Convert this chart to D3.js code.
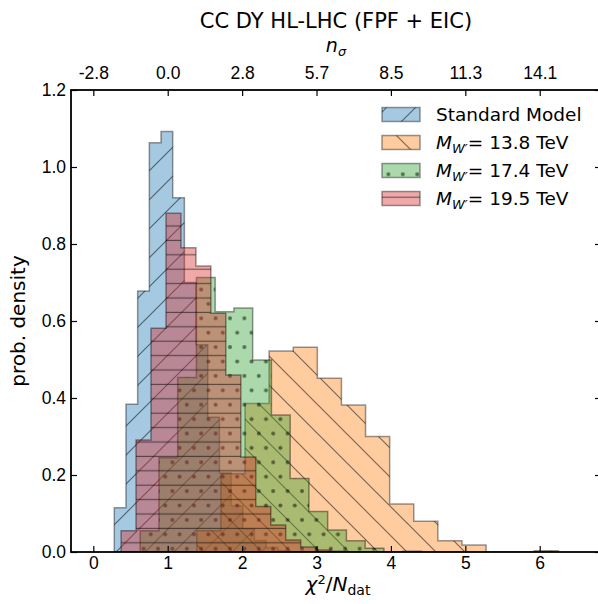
<!DOCTYPE html>
<html lang="en">
<head>
  <meta charset="UTF-8">
  <title>CC DY HL-LHC</title>
  <script src="https://d3js.org/d3.v7.min.js"></script>
  <style>
    body { margin: 0; background: #fff; }
    svg { font-family: "DejaVu Sans", sans-serif; }
    .tick text { font-size: 17.5px; fill: #000; }
    .axis path, .axis line { stroke: #000; }
  </style>
</head>
<body>
<script>
// bin edges and densities (15 bins per sample)
var smEdges = [0.282, 0.439, 0.596, 0.753, 0.910, 1.067, 1.224, 1.381, 1.538, 1.695, 1.852, 2.009, 2.166, 2.323, 2.480, 2.637];
var smDens  = [0.115, 0.384, 0.678, 1.063, 1.092, 0.920, 0.700, 0.538, 0.350, 0.205, 0.120, 0.060, 0.030, 0.012, 0.004];

var w138Edges = [1.391, 1.715, 2.039, 2.363, 2.687, 3.011, 3.335, 3.659, 3.983, 4.307, 4.631, 4.955, 5.279, 5.603, 5.927, 6.251];
var w138Dens  = [0.055, 0.203, 0.386, 0.522, 0.532, 0.451, 0.382, 0.300, 0.125, 0.080, 0.029, 0.018, 0.000, 0.000, 0.003];

var w174Edges = [0.630, 0.882, 1.134, 1.386, 1.638, 1.890, 2.142, 2.394, 2.646, 2.898, 3.150, 3.402, 3.654, 3.906, 4.158, 4.410];
var w174Dens  = [0.055, 0.245, 0.453, 0.713, 0.624, 0.634, 0.499, 0.356, 0.191, 0.105, 0.057, 0.029, 0.010, 0.000, 0.002];

var w195Edges = [0.373, 0.574, 0.775, 0.977, 1.178, 1.379, 1.580, 1.781, 1.983, 2.184, 2.385, 2.586, 2.787, 2.989, 3.190, 3.391];
var w195Dens  = [0.055, 0.291, 0.581, 0.880, 0.790, 0.743, 0.620, 0.460, 0.247, 0.118, 0.070, 0.031, 0.013, 0.005, 0.002];

var xTicks = [0, 1, 2, 3, 4, 5, 6];
var nSigmaLabels = ["-2.8", "0.0", "2.8", "5.7", "8.5", "11.3", "14.1"];
var yTicks = [0.0, 0.2, 0.4, 0.6, 0.8, 1.0, 1.2];

var series = [
  { name: "sm",   label: "Standard Model", edges: smEdges,   dens: smDens,   color: "#1f77b4", hatch: "hatch-ne" },
  { name: "w138", label: "13.8 TeV",       edges: w138Edges, dens: w138Dens, color: "#ff7f0e", hatch: "hatch-nw" },
  { name: "w174", label: "17.4 TeV",       edges: w174Edges, dens: w174Dens, color: "#2ca02c", hatch: "hatch-dot" },
  { name: "w195", label: "19.5 TeV",       edges: w195Edges, dens: w195Dens, color: "#d62728", hatch: "hatch-h" }
];

var W = 598, H = 604;
var margin = { top: 90, right: -3, bottom: 52, left: 71 },
    width = W - margin.left - margin.right,
    height = H - margin.top - margin.bottom;

// scales in page pixels, so the hatch patterns line up with the page
var x = d3.scaleLinear().domain([-0.3, -0.3 + width / 74.4]).range([margin.left, margin.left + width]);
var y = d3.scaleLinear().domain([0, 1.2]).range([margin.top + height, margin.top]);

var svg = d3.select("body").append("svg")
    .attr("width", W).attr("height", H);

// hatch patterns
var defs = svg.append("defs");
var hs = "rgba(0,0,0,0.5)";
var pNE = defs.append("pattern").attr("id", "hatch-ne").attr("patternUnits", "userSpaceOnUse")
    .attr("width", 29).attr("height", 29).attr("x", 1);
pNE.append("path").attr("d", "M0,29L29,0M-7,7L7,-7M22,36L36,22").attr("stroke", hs).attr("stroke-width", 1.2);
var pNW = defs.append("pattern").attr("id", "hatch-nw").attr("patternUnits", "userSpaceOnUse")
    .attr("width", 29).attr("height", 29);
pNW.append("path").attr("d", "M0,0L29,29M-7,22L7,36M22,-7L36,7").attr("stroke", hs).attr("stroke-width", 1.2);
var pH = defs.append("pattern").attr("id", "hatch-h").attr("patternUnits", "userSpaceOnUse")
    .attr("width", 14.4).attr("height", 14.4);
pH.append("rect").attr("x", 0).attr("y", 9.4).attr("width", 14.4).attr("height", 1.2).attr("fill", hs);
var pD = defs.append("pattern").attr("id", "hatch-dot").attr("patternUnits", "userSpaceOnUse")
    .attr("width", 14.4).attr("height", 28.8).attr("x", -0.4).attr("y", 1.5);
[[0, 0], [14.4, 0], [7.2, 14.4], [0, 28.8], [14.4, 28.8]].forEach(function(p) {
  pD.append("circle").attr("cx", p[0]).attr("cy", p[1]).attr("r", 2).attr("fill", hs);
});

defs.append("clipPath").attr("id", "plotclip").append("rect")
    .attr("x", margin.left).attr("y", margin.top).attr("width", width).attr("height", height);

// stepfilled histograms
function stepPoints(s) {
  var pts = [[x(s.edges[0]), y(0)]];
  s.dens.forEach(function(d, i) {
    pts.push([x(s.edges[i]), y(d)]);
    pts.push([x(s.edges[i + 1]), y(d)]);
  });
  pts.push([x(s.edges[s.edges.length - 1]), y(0)]);
  return pts;
}
var line = d3.line();
var hist = svg.append("g").attr("clip-path", "url(#plotclip)");
series.forEach(function(s) {
  var d = line(stepPoints(s)) + "Z";
  var c = d3.color(s.color); c.opacity = 0.4;
  hist.append("path").attr("d", d).attr("fill", c.toString());
  hist.append("path").attr("d", d).attr("fill", "url(#" + s.hatch + ")");
  hist.append("path").attr("d", d).attr("fill", "none")
      .attr("stroke", "rgba(0,0,0,0.4)").attr("stroke-width", 1.5);
});

// axes: classic style, ticks inward on all four sides
var tickLen = 6;
var y0 = margin.top + height, x1 = margin.left + width;
svg.append("g").attr("class", "axis").attr("transform", "translate(0," + y0 + ")")
    .call(d3.axisBottom(x).tickValues(xTicks).tickFormat(d3.format("d")).tickSizeInner(-tickLen).tickSizeOuter(0).tickPadding(5));
svg.append("g").attr("class", "axis").attr("transform", "translate(0," + margin.top + ")")
    .call(d3.axisTop(x).tickValues(xTicks).tickFormat(function(d, i) { return nSigmaLabels[i]; })
      .tickSizeInner(-tickLen).tickSizeOuter(0).tickPadding(11));
svg.append("g").attr("class", "axis").attr("transform", "translate(" + margin.left + ",0)")
    .call(d3.axisLeft(y).tickValues(yTicks).tickFormat(d3.format(".1f")).tickSizeInner(-tickLen).tickSizeOuter(0).tickPadding(5));
svg.append("g").attr("class", "axis").attr("transform", "translate(" + x1 + ",0)")
    .call(d3.axisRight(y).tickValues(yTicks).tickFormat("").tickSizeInner(-tickLen).tickSizeOuter(0));
svg.selectAll(".axis line").attr("stroke-width", 1.2);
svg.selectAll(".axis path.domain").remove();

// frame
svg.append("rect").attr("x", margin.left).attr("y", margin.top).attr("width", width).attr("height", height)
    .attr("fill", "none").attr("stroke", "#000").attr("stroke-width", 1.8);

// labels
var cx = margin.left + width / 2;
svg.append("text").attr("x", cx).attr("y", 28)
    .attr("text-anchor", "middle").attr("font-size", 21).text("CC DY HL-LHC (FPF + EIC)");

var ns = svg.append("text").attr("x", cx).attr("y", 52)
    .attr("text-anchor", "middle").attr("font-size", 19);
ns.append("tspan").attr("font-style", "italic").text("n");
ns.append("tspan").attr("font-style", "italic").attr("font-size", 13).attr("dy", 4).text("σ");

var xl = svg.append("text").attr("x", cx + 2).attr("y", 591)
    .attr("text-anchor", "middle").attr("font-size", 20);
xl.append("tspan").attr("font-style", "italic").text("χ");
xl.append("tspan").attr("font-size", 13).attr("dy", -7).text("2");
xl.append("tspan").attr("dy", 7).text("/");
xl.append("tspan").attr("font-style", "italic").text("N");
xl.append("tspan").attr("font-size", 14).attr("dy", 4).text("dat");

svg.append("text").attr("transform", "translate(25," + (margin.top + height / 2) + ") rotate(-90)")
    .attr("text-anchor", "middle").attr("font-size", 20).text("prob. density");

// legend
var leg = svg.append("g");
series.forEach(function(s, i) {
  var cy = 114.5 + i * 28;
  var c = d3.color(s.color); c.opacity = 0.4;
  leg.append("rect").attr("x", 382).attr("y", cy - 7).attr("width", 38).attr("height", 14)
      .attr("fill", c.toString());
  leg.append("rect").attr("x", 382).attr("y", cy - 7).attr("width", 38).attr("height", 14)
      .attr("fill", "url(#" + s.hatch + ")").attr("stroke", "rgba(0,0,0,0.4)").attr("stroke-width", 1.5);
  var t = leg.append("text").attr("x", 436).attr("y", cy + 6.5).attr("font-size", 18.5);
  if (i === 0) {
    t.text(s.label);
  } else {
    t.append("tspan").attr("font-style", "italic").text("M");
    t.append("tspan").attr("font-style", "italic").attr("font-size", 13).attr("dy", 4).text("W′");
    t.append("tspan").attr("dy", -4).text("= " + s.label);
  }
});
</script>
</body>
</html>
